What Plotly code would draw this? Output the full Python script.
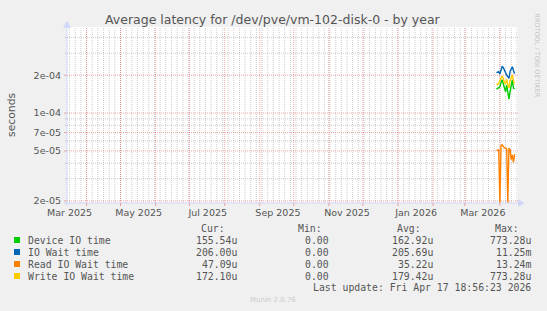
import plotly.graph_objects as go
import numpy as np
import pandas as pd

# ---------------- data ----------------
dates = pd.date_range("2026-03-29", "2026-04-14", freq="D")
device_io = [1.55e-4, 1.57e-4, 1.59e-4, 1.62e-4, 1.75e-4, 1.84e-4, 1.71e-4, 1.58e-4, 1.48e-4,
             1.67e-4, 1.44e-4, 1.29e-4, 1.48e-4, 1.71e-4, 1.84e-4, 1.58e-4, 1.555e-4]
io_wait = [2.10e-4, 2.12e-4, 2.14e-4, 2.05e-4, 2.20e-4, 2.34e-4, 2.31e-4, 2.23e-4, 2.10e-4,
           2.01e-4, 1.95e-4, 1.89e-4, 2.14e-4, 2.27e-4, 2.34e-4, 2.18e-4, 2.06e-4]
read_io = [5.04e-5, 5.04e-5, 5.10e-5, 0.0, 5.52e-5, 5.60e-5, 5.37e-5, 5.27e-5, 5.27e-5,
           5.17e-5, 0.0, 5.27e-5, 5.10e-5, 4.26e-5, 4.66e-5, 4.05e-5, 4.71e-5]
write_io = [1.71e-4, 1.68e-4, 1.73e-4, 1.81e-4, 1.93e-4, 1.97e-4, 1.89e-4, 1.75e-4, 1.71e-4,
            1.86e-4, 1.68e-4, 1.58e-4, 1.81e-4, 1.95e-4, 2.01e-4, 1.81e-4, 1.721e-4]

series_names = ["Device IO time", "IO Wait time", "Read IO Wait time", "Write IO Wait time"]
series_colors = ["#00CC00", "#0066B3", "#FF8000", "#FFCC00"]
cur_vals = ["155.54u", "206.00u", "47.09u", "172.10u"]
min_vals = ["0.00", "0.00", "0.00", "0.00"]
avg_vals = ["162.92u", "205.69u", "35.22u", "179.42u"]
max_vals = ["773.28u", "11.25m", "13.24m", "773.28u"]

y_major = [2e-5, 5e-5, 7e-5, 1e-4, 2e-4]
y_major_text = ["2e-05", "5e-05", "7e-05", "1e-04", "2e-04"]
y_minor = [3e-5, 4e-5, 6e-5, 8e-5, 9e-5, 3e-4, 4e-4]

x_labels = ["Mar 2025", "May 2025", "Jul 2025", "Sep 2025", "Nov 2025", "Jan 2026", "Mar 2026"]
x_start, x_end = "2025-03-14 18:00", "2026-04-17 00:00"
y_lo, y_hi = 1.927e-5, 4.84e-4

title = "Average latency for /dev/pve/vm-102-disk-0 - by year"
last_update = "Last update: Fri Apr 17 18:56:23 2026"

# ---------------- geometry helpers ----------------
W, H = 547, 311
L, R, T, B = 67, 518, 27, 203


def px(x):
    return (x - L) / (R - L)


def py(y):
    return (B - y) / (B - T)


FONT = "DejaVu Sans"
MONO = "DejaVu Sans Mono"
TXT = "#555555"
GRID = "rgba(143,143,143,0.45)"
MGRID = "rgba(222,79,79,0.5)"
AXIS = "#CFD6F8"
DOT = "1px,1px"

month_starts = list(pd.date_range("2025-04-01", "2026-04-01", freq="MS"))
label_pos = [pd.Timestamp(d) + pd.Timedelta(days=16) for d in
             pd.date_range("2025-03-01", "2026-03-01", freq="2MS")]
minor_x = [d for d in pd.date_range("2025-03-12", "2026-04-17", freq="5D")
           if pd.Timestamp(x_start) < d < pd.Timestamp(x_end)]

fig = go.Figure()
all_series = [device_io, io_wait, read_io, write_io]
for name, vals, col in zip(series_names, all_series, series_colors):
    v = np.asarray(vals, dtype=float)
    v = np.where(v > 0, v, y_lo)  # zero drawn at the bottom of the log axis, as rrdtool does
    fig.add_trace(go.Scatter(x=dates, y=v, mode="lines", name=name,
                             line=dict(color=col, width=1.4), showlegend=False,
                             hoverinfo="skip"))

fig.update_layout(
    width=W, height=H,
    margin=dict(l=L, r=W - R, t=T, b=H - B, pad=0),
    paper_bgcolor="#F0F0F0", plot_bgcolor="#FFFFFF",
    showlegend=False,
    xaxis=dict(type="date", range=[x_start, x_end], tickmode="array",
               tickvals=label_pos, ticktext=x_labels,
               showgrid=False, ticks="", showline=False, zeroline=False, ticklabelstandoff=2,
               tickfont=dict(family=FONT, size=9.5, color=TXT), fixedrange=True),
    yaxis=dict(type="log", range=[np.log10(y_lo), np.log10(y_hi)], tickmode="array",
               tickvals=y_major, ticktext=y_major_text,
               showgrid=False, ticks="", showline=False, zeroline=False, ticklabelstandoff=5,
               tickfont=dict(family=FONT, size=9.5, color=TXT), fixedrange=True),
)

shapes = []
# grid lines (below the data)
for d in minor_x:
    shapes.append(dict(type="line", xref="x", yref="paper", x0=d, x1=d, y0=0, y1=1, layer="below",
                       line=dict(color=GRID, width=1, dash=DOT)))
for v in y_minor:
    shapes.append(dict(type="line", xref="paper", yref="y", x0=0, x1=1, y0=v, y1=v, layer="below",
                       line=dict(color=GRID, width=1, dash=DOT)))
    shapes.append(dict(type="line", xref="paper", yref="y", x0=px(65), x1=px(67), y0=v, y1=v,
                       line=dict(color=GRID, width=1)))
for d in month_starts:
    shapes.append(dict(type="line", xref="x", yref="paper", x0=d, x1=d, y0=0, y1=1, layer="below",
                       line=dict(color=MGRID, width=1, dash=DOT)))
    shapes.append(dict(type="line", xref="x", yref="paper", x0=d, x1=d, y0=py(203), y1=py(206),
                       line=dict(color=MGRID, width=1)))
for v in y_major:
    shapes.append(dict(type="line", xref="paper", yref="y", x0=0, x1=1, y0=v, y1=v, layer="below",
                       line=dict(color=MGRID, width=1, dash=DOT)))
    shapes.append(dict(type="line", xref="paper", yref="y", x0=px(64), x1=px(67), y0=v, y1=v,
                       line=dict(color=MGRID, width=1)))
# axis lines and arrows
shapes.append(dict(type="line", xref="paper", yref="paper", x0=px(64), x1=px(519), y0=py(203), y1=py(203),
                   line=dict(color=AXIS, width=1)))
shapes.append(dict(type="line", xref="paper", yref="paper", x0=px(67), x1=px(67), y0=py(206), y1=py(24),
                   line=dict(color=AXIS, width=1)))
shapes.append(dict(type="path", xref="paper", yref="paper",
                   path=f"M {px(518.5)} {py(199.5)} L {px(524)} {py(203)} L {px(518.5)} {py(206.5)} Z",
                   fillcolor=AXIS, line=dict(color=AXIS, width=0.5)))
shapes.append(dict(type="path", xref="paper", yref="paper",
                   path=f"M {px(63.5)} {py(27.5)} L {px(67)} {py(21)} L {px(70.5)} {py(27.5)} Z",
                   fillcolor=AXIS, line=dict(color=AXIS, width=0.5)))

ann = []
ann.append(dict(text=title, x=px(273), y=py(19.5), xref="paper", yref="paper", showarrow=False,
                xanchor="center", yanchor="middle", font=dict(family=FONT, size=12.5, color=TXT)))
ann.append(dict(text="seconds", x=px(11), y=py(115), xref="paper", yref="paper", showarrow=False,
                textangle=-90, xanchor="center", yanchor="middle",
                font=dict(family=FONT, size=10.8, color=TXT)))
ann.append(dict(text="RRDTOOL / TOBI OETIKER", x=px(536.5), y=py(55), xref="paper", yref="paper",
                showarrow=False, textangle=90, xanchor="center", yanchor="middle",
                font=dict(family=FONT, size=6.5, color="#C4C4C4")))


def mono(text, x_right, y, anchor="right", color=TXT, size=9.8, family=MONO):
    ann.append(dict(text=text, x=px(x_right), y=py(y), xref="paper", yref="paper", showarrow=False,
                    xanchor=anchor, yanchor="middle", font=dict(family=family, size=size, color=color)))


row_y0 = 228
mono("Cur:", 226.5, row_y0)
mono("Min:", 324, row_y0)
mono("Avg:", 423, row_y0)
mono("Max:", 521, row_y0)
for i, name in enumerate(series_names):
    yy = row_y0 + 12 * (i + 1)
    shapes.append(dict(type="rect", xref="paper", yref="paper", x0=px(14), x1=px(20),
                       y0=py(yy - 3), y1=py(yy + 3), fillcolor=series_colors[i], line=dict(width=0)))
    mono(name, 26, yy, anchor="left")
    mono(cur_vals[i], 238.5, yy)
    mono(min_vals[i], 330.5, yy)
    mono(avg_vals[i], 434.5, yy)
    mono(max_vals[i], 533, yy)
mono(last_update, 533, row_y0 + 12 * 5 - 0.5)
ann.append(dict(text="Munin 2.0.76", x=px(273), y=py(300), xref="paper", yref="paper", showarrow=False,
                xanchor="center", yanchor="middle", font=dict(family=FONT, size=7, color="#CCCCCC")))

fig.update_layout(shapes=shapes, annotations=ann)
fig.write_html("out.html", config={"displayModeBar": False})
